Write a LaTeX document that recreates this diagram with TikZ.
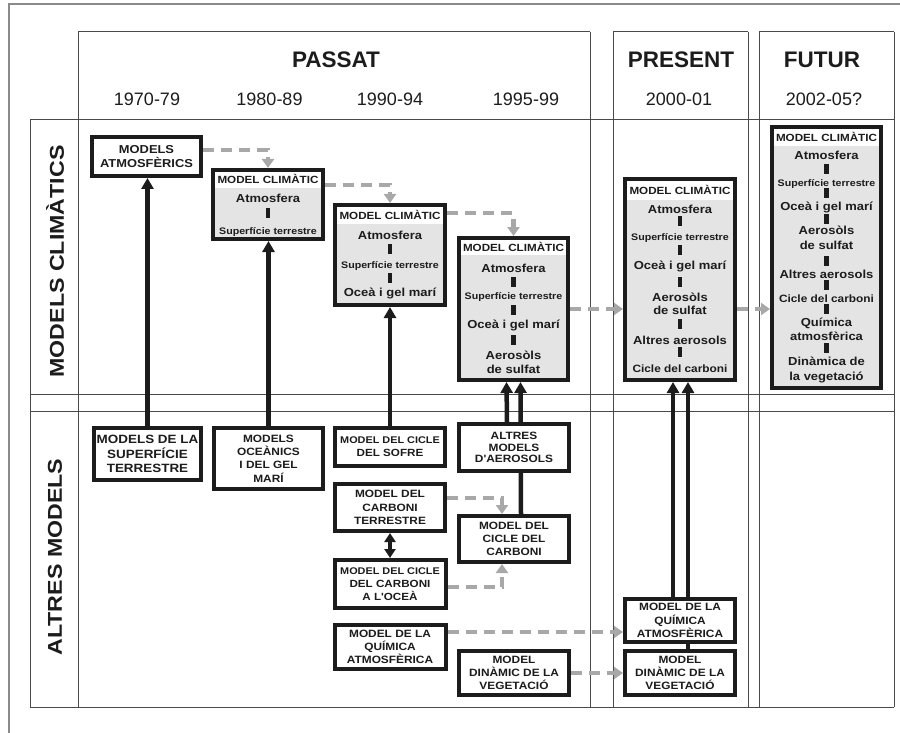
\documentclass[tikz,border=0pt]{standalone}
\usepackage{fontspec}
\setmainfont{Liberation Sans}
\newfontfamily\boxfont[FakeStretch=1.12]{Liberation Sans}
\newfontfamily\sidefont[FakeStretch=1.16]{Liberation Sans}
\usetikzlibrary{arrows.meta}
\pgfdeclarelayer{bg}
\pgfsetlayers{bg,main}

\definecolor{ink}{HTML}{1C1C1C}
\definecolor{gridc}{HTML}{4A4A4A}
\definecolor{framec}{HTML}{8A8A8A}
\definecolor{boxgray}{HTML}{E4E4E4}
\definecolor{dashc}{HTML}{A8A8A8}

% item sizes inside the climate-model boxes
\newcommand\itB{\fontsize{11.6}{13}\selectfont}
\newcommand\itS{\fontsize{9.5}{11}\selectfont}
\newcommand\itC{\fontsize{10.6}{12}\selectfont}
\newcommand\lnA{\fontsize{9.7}{13}\selectfont}

\tikzset{
  gridline/.style={draw=gridc, line width=1pt},
  mbox/.style={draw=ink, line width=4pt, fill=white, inner sep=0pt, align=center,
    text=ink, font=\boxfont\bfseries\fontsize{10.6}{13.3}\selectfont},
  climframe/.style={draw=ink, line width=4pt, fill=boxgray, inner sep=0pt},
  climhead/.style={fill=white, inner sep=0pt, minimum width=106pt, text height=7.5pt,
    text depth=0pt, text=ink, font=\boxfont\bfseries\fontsize{10.4}{12}\selectfont},
  itm/.style={inner sep=0pt, text height=8pt, text depth=0pt, text=ink, font=\boxfont\bfseries},
  sepbar/.style={fill=ink, minimum width=4.5pt, minimum height=9.5pt, inner sep=0pt},
  period/.style={text=ink, font=\bfseries\fontsize{22.5}{26}\selectfont},
  years/.style={text=ink, font=\fontsize{18}{22}\selectfont},
  sidelbl/.style={text=ink, rotate=90, font=\sidefont\bfseries\fontsize{20}{24}\selectfont},
  blk/.style={draw=ink, line width=4.5pt, -{Triangle[width=12pt,length=11pt]}},
  blkboth/.style={draw=ink, line width=4pt,
    {Triangle[width=11pt,length=9pt]}-{Triangle[width=11pt,length=9pt]}},
  gry/.style={draw=dashc, line width=4.5pt, dash pattern=on 11pt off 7pt,
    -{Triangle[width=12pt,length=9pt,fill=dashc]}},
}

\begin{document}
\begin{tikzpicture}[x=1pt,y=-1pt]
\useasboundingbox (0,0) rectangle (900,733);

% ---- column headings
\node[period] (hpassat) at (336,60) {PASSAT};
\node[period] (hpresent) at (681,60) {PRESENT};
\node[period] (hfutur) at (822,60) {FUTUR};
\node[years] (y70) at (147,99.5) {1970-79};
\node[years] (y80) at (269.5,99.5) {1980-89};
\node[years] (y90) at (390,99.5) {1990-94};
\node[years] (y95) at (526,99.5) {1995-99};
\node[years] (y00) at (679,99.5) {2000-01};
\node[years] (y05) at (824,99.5) {2002-05?};

% ---- row headings
\node[sidelbl] (lclim) at (55,261.5) {MODELS CLIMÀTICS};
\node[sidelbl] (laltres) at (55,557) {ALTRES MODELS};

% ---- first climate-related model
\node[mbox, font=\boxfont\bfseries\fontsize{11.5}{14}\selectfont,
  minimum width=109pt, minimum height=39pt] (atm) at (146.5,156.5)
  {MODELS\\ATMOSFÈRICS};

% ---- climate model 1980-89
\node[climframe, minimum width=110pt, minimum height=69pt] (c80) at (268,204.5) {};
\node[climhead, minimum height=16pt] (c80-h) at (268,180) {MODEL CLIMÀTIC};
\foreach \yy/\tx in {199/{\itB Atmosfera},230/{\itS Superfície terrestre}}
  \node[itm] (c80-\yy) at (268,\yy) {\tx};
\foreach \yy in {213}
  \node[sepbar] (c80-s\yy) at (268,\yy) {};

% ---- climate model 1990-94
\node[climframe, minimum width=110pt, minimum height=100pt] (c90) at (390,255) {};
\node[climhead, minimum height=16.5pt] (c90-h) at (390,215.25) {MODEL CLIMÀTIC};
\foreach \yy/\tx in {235/{\itB Atmosfera},264/{\itS Superfície terrestre},292/{\itB Oceà i gel marí}}
  \node[itm] (c90-\yy) at (390,\yy) {\tx};
\foreach \yy in {249,278}
  \node[sepbar] (c90-s\yy) at (390,\yy) {};

% ---- climate model 1995-99
\node[climframe, minimum width=109pt, minimum height=142pt] (c95) at (513.5,309) {};
\node[climhead, minimum width=105pt, minimum height=15pt] (c95-h) at (513.5,247.5) {MODEL CLIMÀTIC};
\foreach \yy/\tx in {268/{\itB Atmosfera},295/{\itS Superfície terrestre},324/{\itB Oceà i gel marí},
    355/{\itB Aerosòls},369/{\itB de sulfat}}
  \node[itm] (c95-\yy) at (513.5,\yy) {\tx};
\foreach \yy in {282,310,340}
  \node[sepbar] (c95-s\yy) at (513.5,\yy) {};

% ---- climate model 2000-01
\node[climframe, minimum width=110pt, minimum height=201pt] (c00) at (680,279.5) {};
\node[climhead, minimum height=19pt] (c00-h) at (680,190.5) {MODEL CLIMÀTIC};
\foreach \yy/\tx in {210/{\itB Atmosfera},236/{\itS Superfície terrestre},265/{\itB Oceà i gel marí},
    297/{\itB Aerosòls},310/{\itB de sulfat},340/{\itB Altres aerosols},368/{\itC Cicle del carboni}}
  \node[itm] (c00-\yy) at (680,\yy) {\tx};
\foreach \yy in {221,250,282,324,352}
  \node[sepbar] (c00-s\yy) at (680,\yy) {};

% ---- climate model 2002-05
\node[climframe, minimum width=109pt, minimum height=261pt] (c05) at (826.5,257.5) {};
\node[climhead, minimum width=105pt, minimum height=17pt] (c05-h) at (826.5,137.5) {MODEL CLIMÀTIC};
\foreach \yy/\tx in {156/{\itB Atmosfera},182/{\itS Superfície terrestre},206/{\itB Oceà i gel marí},
    230/{\itB Aerosòls},245/{\itB de sulfat},274/{\itB Altres aerosols},298/{\itC Cicle del carboni},
    322/{\itB Química},336/{\itB atmosfèrica},361/{\itB Dinàmica de},376/{\itB la vegetació}}
  \node[itm] (c05-\yy) at (826.5,\yy) {\tx};
\foreach \yy in {169,193,219,261,285,309,348}
  \node[sepbar] (c05-s\yy) at (826.5,\yy) {};

% ---- other models
\node[mbox, font=\boxfont\bfseries\fontsize{12}{14.5}\selectfont,
  minimum width=107pt, minimum height=52pt] (sup) at (147.5,454)
  {MODELS DE LA\\SUPERFÍCIE\\TERRESTRE};
\node[mbox, minimum width=109pt, minimum height=61pt] (oce) at (268.5,458.5)
  {MODELS\\OCEÀNICS\\I DEL GEL\\MARÍ};
\node[mbox, font=\boxfont\bfseries\fontsize{10.4}{13.3}\selectfont,
  minimum width=110pt, minimum height=38pt] (sofre) at (390,447)
  {{\lnA MODEL DEL CICLE}\\DEL SOFRE};
\node[mbox, minimum width=110pt, minimum height=47pt] (ct) at (390,507.5)
  {MODEL DEL\\CARBONI\\TERRESTRE};
\node[mbox, font=\boxfont\bfseries\fontsize{10.4}{13.3}\selectfont,
  minimum width=111pt, minimum height=48pt] (co) at (390,584)
  {{\lnA MODEL DEL CICLE}\\DEL CARBONI\\A L'OCEÀ};
\node[mbox, minimum width=111pt, minimum height=44pt] (qa) at (390,647)
  {MODEL DE LA\\QUÍMICA\\ATMOSFÈRICA};
\node[mbox, font=\boxfont\bfseries\fontsize{10.6}{11.7}\selectfont,
  minimum width=110pt, minimum height=47pt] (altres) at (514,447.5)
  {ALTRES\\MODELS\\D'AEROSOLS};
\node[mbox, minimum width=110pt, minimum height=46pt] (cc) at (514,539)
  {MODEL DEL\\CICLE DEL\\CARBONI};
\node[mbox, minimum width=110pt, minimum height=44pt] (dv) at (514,673)
  {MODEL\\DINÀMIC DE LA\\VEGETACIÓ};
\node[mbox, minimum width=110pt, minimum height=43pt] (qp) at (680,620.5)
  {MODEL DE LA\\QUÍMICA\\ATMOSFÈRICA};
\node[mbox, minimum width=110pt, minimum height=44pt] (vp) at (680,673)
  {MODEL\\DINÀMIC DE LA\\VEGETACIÓ};

\begin{pgfonlayer}{bg}
  % page frame
  \draw[framec, line width=1.3pt] (9,733) -- (9,4) -- (900,4);
  % table grid
  \foreach \xx in {78,590,613,748,759,894}
    \draw[gridline] (\xx,32) -- (\xx,707);
  \draw[gridline] (30,120) -- (30,707);
  \draw[gridline] (78,32) -- (590,32);
  \draw[gridline] (613,32) -- (748,32);
  \draw[gridline] (759,32) -- (894,32);
  \foreach \yy in {120,394,411,707}
    \draw[gridline] (30,\yy) -- (894,\yy);

  % evolution of the climate models
  \draw[gry] (atm.east |- 0,150) -| (c80.north);
  \draw[gry] (c80.east |- 0,185) -| (c90.north);
  \draw[gry] (c90.east |- 0,213) -| (c95.north);
  \draw[gry] (c95.east |- 0,309) -- (c00.west |- 0,309);
  \draw[gry] (c00.east |- 0,309) -- (c05.west |- 0,309);
  \draw[gry] (ct.east |- 0,498) -| ([xshift=-12pt]cc.north);
  \draw[gry] (co.east |- 0,587) -| ([xshift=-12pt]cc.south);
  \draw[gry] (qa.east |- 0,632) -- (qp.west |- 0,632);
  \draw[gry] (dv.east) -- (vp.west);

  % components coupled into the climate models
  \draw[blk] (sup.north) -- (sup.north |- atm.south);
  \draw[blk] (oce.north) -- (oce.north |- c80.south);
  \draw[blk] (sofre.north) -- (sofre.north |- c90.south);
  \draw[blk] ([xshift=-7pt]altres.north) -- ([xshift=-7pt]c95.south);
  \draw[blk] ([xshift=7pt]cc.north) -- ([xshift=7pt]c95.south);
  \draw[blk] ([xshift=-7pt]qp.north) -- ([xshift=-7pt]c00.south);
  \draw[blk] ([xshift=8pt]vp.north) -- ([xshift=8pt]c00.south);
  \draw[blkboth] (ct.south) -- (co.north);
\end{pgfonlayer}
\end{tikzpicture}
\end{document}
